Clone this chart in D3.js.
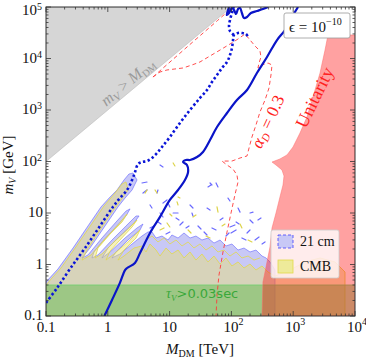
<!DOCTYPE html>
<html>
<head>
<script src="https://d3js.org/d3.v7.min.js"></script>
<style>
  body { margin: 0; background: #fff; }
  svg { display: block; font-family: "Liberation Serif", "DejaVu Serif", serif; }
</style>
</head>
<body>
<svg width="366" height="359"></svg>
<script>
// tick values and labels
const xMajor = [0.1, 1, 10, 100, 1000, 10000];
const xLabels = [["0.1"], ["1"], ["10"], ["10", "2"], ["10", "3"], ["10", "4"]];
const yMajor = [0.1, 1, 10, 100, 1000, 10000, 100000];
const yLabels = [["0.1"], ["1"], ["10"], ["10", "2"], ["10", "3"], ["10", "4"], ["10", "5"]];

// all points are [M_DM in TeV, m_V in GeV]
const forbidden = [[0.1, 100], [100, 1e5], [0.1, 1e5]];
const unitarity = [[3656, 28600], [1e4, 28600], [1e4, 0.1], [313, 0.1], [324, 0.457], [363, 0.894], [421, 2.19],
  [454, 5.12], [527, 10], [611, 20.5], [684, 35], [710, 52.2], [659, 68.4], [527, 85.5], [454, 97.7], [611, 112],
  [794, 134], [993, 191], [1288, 357], [1671, 731], [2089, 1786], [2716, 5224], [3273, 14600]];
const tauBand = [0.1, 0.4];

const cm21 = [[0.1, 0.1], [0.1, 0.457], [0.156, 0.818], [0.274, 2.09], [0.478, 5.60], [0.776, 13.1], [1.05, 19.5],
  [1.41, 28.0], [1.83, 43.8], [2.20, 57.2], [2.56, 59.8], [2.97, 43.8], [2.47, 28.0], [1.90, 19.5], [1.46, 13.1],
  [0.901, 5.60], [0.515, 2.09], [0.383, 1.34],
  [0.478, 1.53], [0.805, 3.27], [1.36, 6.69], [1.97, 10.9], [2.29, 12.0], [1.97, 8.75], [1.26, 4.89], [0.805, 2.74],
  [0.598, 1.75], [0.555, 1.34],
  [0.693, 1.53], [1.17, 2.99], [1.97, 5.60], [2.86, 8.75], [3.20, 8.75], [2.66, 6.40], [1.57, 3.57], [1.01, 2.09],
  [0.805, 1.34],
  [1.09, 1.75], [1.90, 3.27], [2.97, 5.12], [3.71, 6.11], [3.32, 4.68], [2.12, 2.99], [1.36, 1.75], [1.17, 1.34],
  [1.57, 1.60], [2.47, 2.50], [3.57, 3.57], [4.47, 4.28], [5.19, 4.28],
  [6.03, 3.27], [7.53, 3.57], [9.41, 2.99], [10.9, 3.74], [13.7, 3.27], [17.1, 4.09], [21.4, 3.27], [26.7, 3.57],
  [33.4, 2.99], [41.8, 3.27], [52.3, 2.61], [65.5, 2.99], [81.8, 2.29], [102, 2.50], [128, 1.91], [160, 2.09],
  [200, 1.75], [250, 1.91], [313, 1.46], [363, 1.34], [421, 1.12], [508, 0.782], [508, 0.1]];

const cmb = [[0.1, 0.1], [0.1, 0.4], [0.125, 0.547], [0.175, 0.855], [0.305, 2.19], [0.535, 5.85], [0.869, 13.7],
  [1.31, 24.4], [1.70, 36.6], [1.97, 40.0], [2.12, 28.0], [1.64, 17.9], [1.17, 10.4], [0.748, 4.68], [0.461, 1.91],
  [0.383, 1.22],
  [0.535, 1.53], [0.869, 2.99], [1.46, 5.85], [2.05, 9.57], [1.70, 6.69], [1.09, 3.91], [0.693, 2.09], [0.621, 1.34],
  [0.805, 1.60], [1.31, 2.86], [2.12, 4.89], [2.97, 7.31], [2.47, 5.35], [1.57, 2.99], [1.09, 1.83], [0.935, 1.22],
  [1.26, 1.60], [2.12, 2.74], [3.32, 4.68], [2.86, 3.27], [1.83, 1.91], [1.46, 1.22],
  [1.83, 1.46], [2.66, 2.09], [3.57, 2.29], [4.15, 1.75], [4.82, 2.50], [6.03, 1.91], [7.0, 1.46], [8.75, 2.09],
  [10.9, 1.60], [13.7, 1.91], [17.1, 1.34], [21.4, 1.75], [26.7, 1.22], [33.4, 1.60], [41.8, 1.12], [52.3, 1.46],
  [65.5, 1.02], [81.8, 1.34], [102, 0.935], [128, 1.12], [160, 0.855], [200, 1.02], [250, 0.782], [313, 0.935],
  [391, 0.715], [508, 0.598], [887, 0.782], [1552, 1.12], [2716, 1.34], [4742, 1.12], [6887, 0.715], [6887, 0.1]];

const cmbWiggle = [[4.15, 2.99], [5.19, 3.57], [6.49, 2.74], [8.12, 3.27], [10.1, 2.50], [12.7, 2.99], [15.9, 2.29],
  [19.9, 2.74], [24.8, 2.09], [31.0, 2.50], [38.8, 1.91], [48.5, 2.29], [60.7, 1.75], [75.9, 1.91], [94.9, 1.46],
  [119, 1.75], [148, 1.34], [186, 1.46], [232, 1.22], [290, 1.34]];

// scattered contour fragments [M1, m1, M2, m2]
const speck21 = [[3.71, 24.4, 4.31, 28.0], [9.41, 15.6, 10.1, 13.1], [11.4, 10.0, 13.7, 10.0], [21.4, 14.3, 23.9, 12.5],
  [23.0, 10.0, 23.9, 8.75], [45.1, 38.3, 48.5, 35.0], [40.3, 12.5, 45.1, 11.4], [65.5, 7.31, 73.1, 8.0],
  [94.9, 5.35, 114, 5.85], [200, 10.0, 224, 10.4], [179, 4.09, 200, 4.68], [14.7, 5.85, 16.5, 6.69],
  [7.0, 10.0, 7.82, 8.36], [56.4, 38.3, 60.7, 32.0], [41.8, 32.0, 46.8, 35.0], [128, 12.5, 138, 10.4],
  [200, 7.31, 224, 6.40], [269, 7.31, 301, 8.0], [98.6, 4.09, 119, 4.68], [7.0, 85.5, 7.82, 78.2],
  [6.49, 28.0, 6.25, 24.4], [3.57, 38.3, 4.31, 40.0], [7.82, 15.6, 9.08, 17.9],
  [4.82, 5.12, 5.60, 5.60], [6.49, 6.69, 7.26, 6.11], [18.4, 5.12, 20.6, 5.60], [28.8, 5.60, 32.2, 4.89],
  [48.5, 5.12, 56.4, 4.68], [81.8, 3.57, 91.5, 4.09], [148, 3.27, 172, 2.99], [241, 2.99, 280, 3.42],
  [313, 2.50, 350, 2.74], [8.75, 3.91, 10.1, 4.28], [36.1, 4.28, 40.3, 3.74], [119, 6.69, 133, 6.11],
  [12.7, 8.0, 14.2, 7.31], [4.82, 14.3, 5.19, 12.5], [88.1, 19.5, 94.9, 17.1]];
const speckCmb = [[5.81, 28.0, 6.25, 24.4], [13.2, 16.4, 13.7, 14.3], [58.5, 13.1, 60.7, 10.4], [9.08, 6.40, 10.1, 5.35],
  [23.9, 8.36, 26.7, 9.15], [11.4, 93.5, 12.2, 81.8], [4.31, 28.0, 4.00, 24.4], [13.7, 20.5, 14.7, 19.5],
  [7.0, 4.68, 8.12, 5.12], [19.9, 4.68, 22.2, 4.09], [38.8, 3.57, 45.1, 3.27], [70.5, 5.60, 78.8, 6.11],
  [186, 2.99, 215, 2.74], [138, 6.11, 148, 5.12], [10.1, 9.57, 10.9, 8.75]];

// relic contours
const solidMain = [[0.88, 0.1], [1.17, 0.205], [1.57, 0.44], [1.90, 0.78], [2.05, 0.855], [2.75, 1.07], [3.32, 1.67],
  [4.82, 4.09], [7.0, 8.4], [10.1, 17.9], [13.7, 28], [17.7, 43.8], [19.9, 62.5], [19.1, 85.5], [16.5, 97.7],
  [18.4, 107], [21.4, 107], [27.8, 122], [34.7, 153], [45.1, 261], [58.5, 468], [84.9, 875], [123, 1563],
  [179, 2445], [259, 5224], [377, 10700], [547, 22860], [737, 35700], [957, 64000], [1197, 1e5]];
const solidTop = [[92, 1e5], [84, 70000], [91.5, 76400], [102, 95700], [110, 87500], [119, 73100], [128, 91500],
  [138, 95700], [148, 76400], [160, 61100], [179, 64000], [207, 76400], [259, 83600], [324, 91500], [391, 1e5]];
const dottedMain = [[0.1, 0.18], [0.151, 0.350], [0.244, 0.819], [0.428, 2.09], [0.748, 5.60], [1.21, 13.1],
  [1.57, 19.5], [2.05, 28.0], [2.47, 43.8], [2.76, 62.5], [3.08, 89.3], [3.57, 97.7], [4.31, 102], [5.19, 117],
  [6.25, 146], [7.53, 191], [10.1, 299], [14.7, 560], [21.4, 1000], [31.0, 1710], [40.3, 2445], [48.5, 3500],
  [58.5, 4786], [70.5, 6546], [84.9, 8560], [94.9, 11700], [102, 16000], [106, 21900], [110, 28600], [128, 31300],
  [148, 31300], [172, 29900], [186, 26100]];
const dottedTop = [[110, 28600], [94.9, 34200], [91.5, 42800], [94.9, 56000], [102, 76400], [110, 1e5]];
const alphaUpper = [[5.38, 4375], [20, 17500], [60, 55000], [105, 1e5]];
const alphaLower = [[5.38, 4375], [7.0, 5470], [9.08, 5985], [12.2, 6260], [16.5, 6546], [23.0, 7480], [31.0, 8560],
  [45.1, 11200], [65.5, 14600], [94.9, 19100], [128, 23900], [166, 29900], [200, 22900], [241, 17500], [290, 14000],
  [301, 10700], [280, 8180], [269, 6546], [313, 7480], [391, 8180], [454, 7480], [437, 4786], [406, 2673],
  [350, 1563], [290, 914], [250, 512], [215, 299], [193, 183], [179, 128], [138, 117], [102, 102], [70.5, 102],
  [84.9, 85.5], [106, 71.5], [123, 54.7], [128, 40.0], [114, 22.4], [98.6, 10], [84.9, 4.27], [73.1, 1.75],
  [63.0, 0.625], [58.5, 0.256], [56.4, 0.1]];

const svg = d3.select("svg");
const L = 46, R = 355, T = 7, B = 316;
const x = d3.scaleLog().domain([0.1, 1e4]).range([L, R]);
const y = d3.scaleLog().domain([0.1, 1e5]).range([B, T]);

svg.append("clipPath").attr("id", "plot")
  .append("rect").attr("x", L).attr("y", T).attr("width", R - L).attr("height", B - T);
const g = svg.append("g").attr("clip-path", "url(#plot)");

const poly = d3.line().x(d => x(d[0])).y(d => y(d[1]));
const smooth = d3.line().x(d => x(d[0])).y(d => y(d[1])).curve(d3.curveCatmullRom.alpha(0.5));

g.append("path").attr("d", poly(forbidden) + "Z").attr("fill", "#d6d6d6").attr("stroke", "#bbb").attr("stroke-width", 0.6);

g.append("path").attr("d", poly(cm21) + "Z")
  .attr("fill", "#c8c8f6").attr("stroke", "#6464ff").attr("stroke-width", 0.6);
g.append("path").attr("d", poly(cmb) + "Z")
  .attr("fill", "#e8e070").attr("fill-opacity", 0.45)
  .attr("stroke", "#e2d94a").attr("stroke-width", 0.8);
g.append("path").attr("d", poly(cmbWiggle)).attr("fill", "none")
  .attr("stroke", "#e2d94a").attr("stroke-width", 0.8);

g.selectAll(".s21").data(speck21).enter().append("line")
  .attr("x1", d => x(d[0])).attr("y1", d => y(d[1])).attr("x2", d => x(d[2])).attr("y2", d => y(d[3]))
  .attr("stroke", "#6a6aff").attr("stroke-width", 1.2).attr("stroke-linecap", "round");
g.selectAll(".scmb").data(speckCmb).enter().append("line")
  .attr("x1", d => x(d[0])).attr("y1", d => y(d[1])).attr("x2", d => x(d[2])).attr("y2", d => y(d[3]))
  .attr("stroke", "#ddd44a").attr("stroke-width", 1.2).attr("stroke-linecap", "round");

// lifetime band
g.append("rect").attr("x", L).attr("width", R - L)
  .attr("y", y(tauBand[1])).attr("height", y(tauBand[0]) - y(tauBand[1]))
  .attr("fill", "rgb(110,190,90)").attr("fill-opacity", 0.55);
g.append("line").attr("x1", L).attr("x2", R).attr("y1", y(tauBand[1])).attr("y2", y(tauBand[1]))
  .attr("stroke", "#6fcf6f").attr("stroke-width", 0.8);

g.append("path").attr("d", poly(unitarity) + "Z")
  .attr("fill", "#ff0000").attr("fill-opacity", 0.37).attr("stroke", "#ff6a6a").attr("stroke-width", 0.5);

g.append("path").attr("d", smooth(alphaUpper)).attr("fill", "none")
  .attr("stroke", "#ff3a3a").attr("stroke-width", 0.9).attr("stroke-dasharray", "4,3");
g.append("path").attr("d", poly(alphaLower)).attr("fill", "none")
  .attr("stroke", "#ff3a3a").attr("stroke-width", 0.9).attr("stroke-dasharray", "4,3");

g.append("path").attr("d", smooth(solidMain)).attr("fill", "none")
  .attr("stroke", "#0a14c8").attr("stroke-width", 2.2).attr("stroke-linejoin", "round");
g.append("path").attr("d", smooth(solidTop)).attr("fill", "none")
  .attr("stroke", "#0a14c8").attr("stroke-width", 2.2).attr("stroke-linejoin", "round");
[dottedMain, dottedTop].forEach(pts => {
  g.append("path").attr("d", smooth(pts)).attr("fill", "none")
    .attr("stroke", "#0a14d8").attr("stroke-width", 2.6).attr("stroke-dasharray", "2.4,2.4");
});

// in-plot labels
const lab1 = svg.append("text").attr("transform", "translate(131,86) rotate(-40)")
  .attr("text-anchor", "middle").attr("fill", "#9a9a9a").attr("font-size", 16);
lab1.append("tspan").attr("font-style", "italic").text("m");
lab1.append("tspan").attr("font-style", "italic").attr("font-size", 11).attr("dy", 3).text("V");
lab1.append("tspan").attr("dy", -3).text(" > ");
lab1.append("tspan").attr("font-style", "italic").text("M");
lab1.append("tspan").attr("font-size", 10).attr("dy", 3).text("DM");

const lab2 = svg.append("text").attr("transform", "translate(273,124) rotate(-65)")
  .attr("text-anchor", "middle").attr("fill", "#ff2020").attr("font-size", 17);
lab2.append("tspan").attr("font-style", "italic").text("α");
lab2.append("tspan").attr("font-style", "italic").attr("font-size", 11).attr("dy", 3).text("D");
lab2.append("tspan").attr("dy", -3).text(" = 0.3");

svg.append("text").attr("transform", "translate(320,100) rotate(-64)")
  .attr("text-anchor", "middle").attr("fill", "#ff2020").attr("font-size", 18).text("Unitarity");

const lab3 = svg.append("text").attr("x", 166).attr("y", 298).attr("fill", "#3aa83a").attr("font-size", 13);
lab3.append("tspan").attr("font-style", "italic").attr("font-size", 14).text("τ");
lab3.append("tspan").attr("font-style", "italic").attr("font-size", 9).attr("dy", 3).text("V");
lab3.append("tspan").attr("dy", -3).attr("font-family", "DejaVu Sans").text(">0.03sec");

// frame and ticks
svg.append("rect").attr("x", L).attr("y", T).attr("width", R - L).attr("height", B - T)
  .attr("fill", "none").attr("stroke", "#333").attr("stroke-width", 1);

function minors(major) {
  const out = [];
  major.slice(0, -1).forEach(d => { for (let k = 2; k <= 9; k++) out.push(d * k); });
  return out;
}
const ticks = svg.append("g").attr("stroke", "#333").attr("stroke-width", 0.8);
[[xMajor, 5], [minors(xMajor), 2.5]].forEach(([vals, len]) => {
  vals.forEach(v => {
    ticks.append("line").attr("x1", x(v)).attr("x2", x(v)).attr("y1", B).attr("y2", B - len);
    ticks.append("line").attr("x1", x(v)).attr("x2", x(v)).attr("y1", T).attr("y2", T + len);
  });
});
[[yMajor, 5], [minors(yMajor), 2.5]].forEach(([vals, len]) => {
  vals.forEach(v => {
    ticks.append("line").attr("y1", y(v)).attr("y2", y(v)).attr("x1", L).attr("x2", L + len);
    ticks.append("line").attr("y1", y(v)).attr("y2", y(v)).attr("x1", R).attr("x2", R - len);
  });
});

xMajor.forEach((v, i) => {
  const t = svg.append("text").attr("x", x(v) + (xLabels[i][1] ? 2 : 0)).attr("y", 332)
    .attr("text-anchor", "middle").attr("font-size", 15).attr("fill", "#111");
  t.append("tspan").text(xLabels[i][0]);
  if (xLabels[i][1]) t.append("tspan").attr("font-size", 10).attr("dy", -7).text(xLabels[i][1]);
});
yMajor.forEach((v, i) => {
  const sup = yLabels[i][1];
  const base = Math.max(y(v) + 4, 15);
  svg.append("text").attr("x", 43 - (sup ? 6 : 0)).attr("y", base)
    .attr("text-anchor", "end").attr("font-size", 15).attr("fill", "#111").text(yLabels[i][0]);
  if (sup) {
    svg.append("text").attr("x", 37).attr("y", base - 5).attr("font-size", 10)
      .attr("fill", "#111").text(sup);
  }
});

// axis titles
const xt = svg.append("text").attr("x", 200).attr("y", 354).attr("text-anchor", "middle")
  .attr("font-size", 15).attr("fill", "#111");
xt.append("tspan").attr("font-style", "italic").text("M");
xt.append("tspan").attr("font-size", 10).attr("dy", 3).text("DM");
xt.append("tspan").attr("dy", -3).text(" [TeV]");

const yt = svg.append("text").attr("transform", "translate(13,165) rotate(-90)").attr("text-anchor", "middle")
  .attr("font-size", 15).attr("fill", "#111");
yt.append("tspan").attr("font-style", "italic").text("m");
yt.append("tspan").attr("font-style", "italic").attr("font-size", 10).attr("dy", 3).text("V");
yt.append("tspan").attr("dy", -3).text(" [GeV]");

// epsilon box
svg.append("rect").attr("x", 284).attr("y", 13).attr("width", 66).attr("height", 25).attr("rx", 2)
  .attr("fill", "#fff").attr("stroke", "#999").attr("stroke-width", 0.8);
const eps = svg.append("text").attr("x", 289).attr("y", 32).attr("font-size", 15).attr("fill", "#111");
eps.append("tspan").text("ϵ = 10");
eps.append("tspan").attr("font-size", 10).attr("dy", -7).text("−10");

// legend
const leg = svg.append("g");
leg.append("rect").attr("x", 271).attr("y", 230).attr("width", 68).attr("height", 48).attr("rx", 2)
  .attr("fill", "#fff").attr("fill-opacity", 0.8).attr("stroke", "#ccc").attr("stroke-width", 0.8);
leg.append("rect").attr("x", 278).attr("y", 235).attr("width", 15).attr("height", 13)
  .attr("fill", "#c8c8f6").attr("stroke", "#4040ff").attr("stroke-width", 0.8).attr("stroke-dasharray", "3,2");
leg.append("rect").attr("x", 278).attr("y", 260).attr("width", 15).attr("height", 13)
  .attr("fill", "#eeea9a").attr("stroke", "#e2d94a").attr("stroke-width", 0.8);
leg.append("text").attr("x", 300).attr("y", 246).attr("font-size", 14).attr("fill", "#111").text("21 cm");
leg.append("text").attr("x", 300).attr("y", 271).attr("font-size", 14).attr("fill", "#111").text("CMB");
</script>
</body>
</html>
